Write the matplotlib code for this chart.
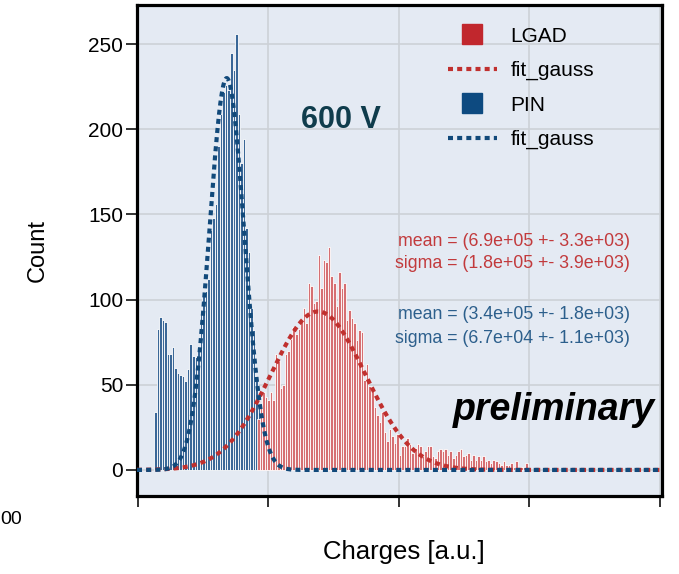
import numpy as np
import matplotlib
matplotlib.use("Agg")
import matplotlib.pyplot as plt
from matplotlib.lines import Line2D

plt.rcParams['font.family'] = ['Liberation Sans', 'DejaVu Sans']

# ---------------- data ----------------
bin_width = 9.7e3
pin_first_center = 6.63e4
lgad_first_center = 4.61e5

pin_counts = [34, 83, 90, 88, 87, 68, 68, 72, 60, 57, 56, 55, 52, 59, 74, 67, 66,
              72, 92, 102, 105, 112, 141, 148, 156, 190, 209, 222, 226, 223, 245,
              235, 256, 209, 180, 194, 142, 128, 95, 82, 55, 38, 25, 14, 10, 4, 2]

lgad_counts = [30, 37, 46, 43, 41, 46, 41, 68, 64, 48, 50, 68, 70, 77, 84, 80, 83,
               88, 95, 86, 110, 108, 98, 99, 126, 107, 123, 122, 131, 114, 110, 96,
               116, 107, 110, 88, 94, 89, 86, 76, 82, 81, 53, 62, 49, 48, 37, 32, 28,
               34, 22, 17, 24, 20, 16, 21, 9, 14, 14, 19, 15, 10, 13, 15, 14, 8, 11,
               14, 14, 8, 7, 11, 12, 11, 12, 9, 11, 7, 9, 11, 12, 8, 9, 10, 6, 9, 6,
               8, 6, 8, 5, 6, 4, 6, 5, 4, 3, 5, 3, 3, 4, 2, 5, 2, 2, 2, 4]

# fit parameters (amplitude, mean, sigma)
lgad_fit = (93.0, 6.9e5, 1.8e5)
pin_fit = (230.0, 3.4e5, 6.7e4)

x_ticks = [0, 0.5e6, 1.0e6, 1.5e6, 2.0e6]
y_ticks = [0, 50, 100, 150, 200, 250]

lgad_text = ["mean = (6.9e+05 +- 3.3e+03)", "sigma = (1.8e+05 +- 3.9e+03)"]
pin_text = ["mean = (3.4e+05 +- 1.8e+03)", "sigma = (6.7e+04 +- 1.1e+03)"]

# ---------------- style ----------------
RED_PATCH = '#c1272d'
RED_FILL = '#d66f72'
RED_EDGE = '#c23a3c'
RED_LINE = '#c0302e'
BLUE_PATCH = '#0d4a80'
BLUE_FILL = '#3a6797'
BLUE_LINE = '#11497a'
BG = '#e4eaf3'

fig = plt.figure(figsize=(6.79, 5.74), dpi=100)
ax = fig.add_axes([137/679, 78/574, 525/679, 491/574])
ax.set_facecolor(BG)
xmin, xmax = -3.8e3, 2.0077e6
ax.set_xlim(xmin, xmax)
ax.set_ylim(-15.3, 272.9)

pin_x = pin_first_center + bin_width * np.arange(len(pin_counts))
lgad_x = lgad_first_center + bin_width * np.arange(len(lgad_counts))

ax.bar(pin_x, pin_counts, width=bin_width, color=BLUE_FILL,
       edgecolor='white', linewidth=0.6, zorder=2)
ax.bar(lgad_x, lgad_counts, width=bin_width, color=RED_FILL,
       edgecolor='white', linewidth=0.6, zorder=2)

xf = np.linspace(xmin, xmax, 800)
def gauss(x, a, m, s):
    return a * np.exp(-0.5 * ((x - m) / s) ** 2)

dot = (0, (1.2, 1.0))
ax.plot(xf, gauss(xf, *lgad_fit), color=RED_LINE, lw=3, ls=dot, zorder=3)
ax.plot(xf, gauss(xf, *pin_fit), color=BLUE_LINE, lw=3, ls=dot, zorder=4)

ax.set_xticks(x_ticks)
ax.set_xticklabels([''] * len(x_ticks))
ax.set_yticks(y_ticks)
ax.set_axisbelow(True)
ax.grid(True, color='#cdd1d7', lw=1.2)
ax.tick_params(direction='out', length=8, width=1.3, color='#222222',
               labelsize=15, pad=2)
for sp in ax.spines.values():
    sp.set_linewidth(2.3)
    sp.set_color('black')

ax.set_ylabel('Count', fontsize=17)
ax.yaxis.set_label_coords(-0.168, 0.5)
ax.set_xlabel('Charges [a.u.]', fontsize=18.5)
ax.xaxis.set_label_coords(0.5086, -0.089)

ax.text(0.3886, 0.7495, '600 V', transform=ax.transAxes, ha='center',
        va='baseline', fontsize=22, fontweight='bold', color='#0f3c4c')

ax.text(0.939, 0.509, lgad_text[0], transform=ax.transAxes, ha='right',
        va='baseline', fontsize=12.8, color=RED_EDGE)
ax.text(0.939, 0.464, lgad_text[1], transform=ax.transAxes, ha='right',
        va='baseline', fontsize=12.8, color=RED_EDGE)
ax.text(0.939, 0.3605, pin_text[0], transform=ax.transAxes, ha='right',
        va='baseline', fontsize=12.8, color='#2c5f8c')
ax.text(0.939, 0.3116, pin_text[1], transform=ax.transAxes, ha='right',
        va='baseline', fontsize=12.8, color='#2c5f8c')

ax.text(0.987, 0.1548, 'preliminary', transform=ax.transAxes, ha='right',
        va='baseline', fontsize=27, fontweight='bold', fontstyle='italic',
        color='black')

handles = [
    Line2D([], [], marker='s', markersize=15, linestyle='none', color=RED_PATCH),
    Line2D([], [], color=RED_LINE, lw=3, ls=dot),
    Line2D([], [], marker='s', markersize=15, linestyle='none', color=BLUE_PATCH),
    Line2D([], [], color=BLUE_LINE, lw=3, ls=dot),
]
labels = ['LGAD', 'fit_gauss', 'PIN', 'fit_gauss']
ax.legend(handles, labels, loc='upper left', bbox_to_anchor=(0.592, 0.956),
          frameon=False, fontsize=15, handlelength=2.35, handletextpad=0.65,
          labelspacing=0.74, borderpad=0, borderaxespad=0, numpoints=1)

fig.text(0.0, 1 - 520/574, '00', fontsize=14, va='center', ha='left')

fig.savefig('out.png', dpi=100)
